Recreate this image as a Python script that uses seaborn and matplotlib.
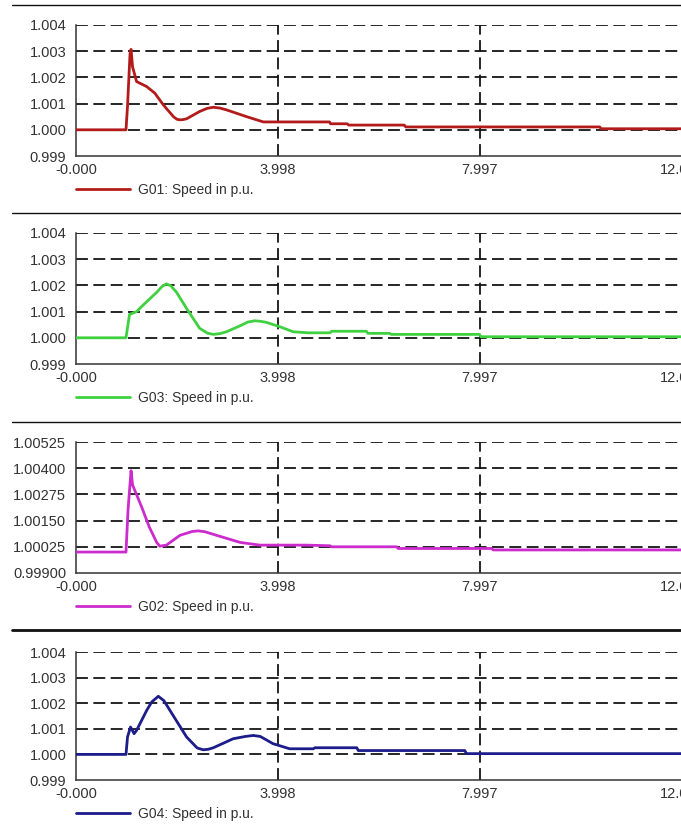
import matplotlib
matplotlib.use("Agg")
import matplotlib.pyplot as plt
from matplotlib.lines import Line2D
from matplotlib.ticker import FixedLocator
import pandas as pd
import seaborn as sns

# --- data (time in s, speed in p.u.) ---
t_g01 = [0, 0.99, 1.02, 1.07, 1.09, 1.12, 1.20, 1.40, 1.56, 1.73, 1.93, 2.00, 2.06, 2.12, 2.19,
         2.45, 2.60, 2.72, 2.85, 2.98, 3.38, 3.71, 5.02, 5.04, 5.37, 5.40, 6.50, 6.53,
         10.37, 10.40, 12.0]
w_g01 = [1.0, 1.0, 1.0009, 1.0029, 1.00307, 1.0024, 1.00184, 1.00165, 1.0014, 1.00095,
         1.0005, 1.0004, 1.00038, 1.00039, 1.00042, 1.0007, 1.00082, 1.00086, 1.00083,
         1.00076, 1.0005, 1.0003, 1.0003, 1.00023, 1.00023, 1.00018, 1.00018, 1.00011,
         1.00011, 1.00004, 1.00004]

t_g03 = [0, 0.99, 1.06, 1.20, 1.33, 1.60, 1.70, 1.79, 1.88, 1.99, 2.19, 2.45, 2.60, 2.72,
         2.85, 2.98, 3.25, 3.40, 3.54, 3.65, 3.77, 4.04, 4.30, 4.60, 5.03, 5.06, 5.75, 5.78,
         6.21, 6.24, 7.99, 8.02, 12.0]
w_g03 = [1.0, 1.0, 1.00089, 1.0010, 1.00125, 1.00174, 1.00195, 1.00206, 1.00198, 1.00174,
         1.00112, 1.00036, 1.00018, 1.00013, 1.00016, 1.00023, 1.00046, 1.0006, 1.00065,
         1.00063, 1.00059, 1.00042, 1.00023, 1.00019, 1.00019, 1.00025, 1.00025, 1.00017,
         1.00017, 1.00013, 1.00013, 1.00004, 1.00004]

t_g02 = [0, 0.99, 1.03, 1.09, 1.12, 1.30, 1.45, 1.60, 1.66, 1.79, 2.06, 2.30, 2.42, 2.55,
         2.78, 3.25, 3.64, 4.56, 5.03, 5.06, 6.35, 6.38, 8.23, 8.26, 12.0]
w_g02 = [1.0, 1.0, 1.002, 1.00388, 1.0032, 1.00215, 1.0012, 1.00045, 1.00028, 1.00033,
         1.0008, 1.00098, 1.00101, 1.00097, 1.0008, 1.00046, 1.00033, 1.00033, 1.0003,
         1.00025, 1.00025, 1.00017, 1.00017, 1.0001, 1.0001]

t_g04 = [0, 0.99, 1.02, 1.08, 1.15, 1.20, 1.40, 1.50, 1.63, 1.74, 1.86, 2.19, 2.40, 2.52,
         2.62, 2.72, 3.11, 3.35, 3.51, 3.65, 3.90, 4.23, 4.70, 4.73, 5.56, 5.59, 7.70, 7.73,
         12.0]
w_g04 = [1.0, 1.0, 1.00068, 1.00107, 1.00081, 1.00094, 1.00172, 1.00205, 1.00227, 1.0021,
         1.00172, 1.00068, 1.00025, 1.00018, 1.0002, 1.00026, 1.00061, 1.0007, 1.00074,
         1.0007, 1.00042, 1.00022, 1.00022, 1.00026, 1.00026, 1.00015, 1.00015, 1.00003,
         1.00003]

x_ticks = [0.0, 3.998, 7.997, 12.0]
x_labels = ["-0.000", "3.998", "7.997", "12.000"]
y_ticks_std = [0.999, 1.000, 1.001, 1.002, 1.003, 1.004]
y_labels_std = ["0.999", "1.000", "1.001", "1.002", "1.003", "1.004"]
y_ticks_g02 = [0.999, 1.00025, 1.0015, 1.00275, 1.004, 1.00525]
y_labels_g02 = ["0.99900", "1.00025", "1.00150", "1.00275", "1.00400", "1.00525"]

panels = [
    ("G01: Speed in p.u.", t_g01, w_g01, "#b31b1b", y_ticks_std, y_labels_std),
    ("G03: Speed in p.u.", t_g03, w_g03, "#3fd13f", y_ticks_std, y_labels_std),
    ("G02: Speed in p.u.", t_g02, w_g02, "#cc2ccc", y_ticks_g02, y_labels_g02),
    ("G04: Speed in p.u.", t_g04, w_g04, "#1c1c8a", y_ticks_std, y_labels_std),
]

sns.set_style("white")
plt.rcParams["font.family"] = ["Liberation Sans", "DejaVu Sans"]

W, H = 681, 827
fig = plt.figure(figsize=(W / 100, H / 100), dpi=100)

# pixel layout: (top of axes, bottom of axes, separator y, separator width)
layout = [(25, 156, 5, 1.0), (233, 364, 213, 1.0), (442, 573, 422, 1.0), (652, 780, 630, 2.0)]
ax_left, ax_right = 76, 682
dash = (0, (6.6, 3.0))

for (label, t, w, color, yt, yl), (top, bot, sep, sep_w) in zip(panels, layout):
    ax = fig.add_axes([ax_left / W, 1 - bot / H, (ax_right - ax_left) / W, (bot - top) / H])
    df = pd.DataFrame({"t": t, "w": w})
    sns.lineplot(data=df, x="t", y="w", ax=ax, color=color, lw=2.0,
                 estimator=None, sort=False, label=label, zorder=3)

    ax.set_xlim(0, 12.0)
    ax.set_ylim(yt[0], yt[-1])
    ax.set_xlabel("")
    ax.set_ylabel("")
    ax.xaxis.set_major_locator(FixedLocator(x_ticks))
    ax.set_xticklabels(x_labels)
    ax.yaxis.set_major_locator(FixedLocator(yt))
    ax.set_yticklabels(yl)
    ax.xaxis.set_minor_locator(FixedLocator([1.999, 5.997, 9.996]))
    step = yt[1] - yt[0]
    ax.yaxis.set_minor_locator(FixedLocator([v + step / 2 for v in yt[:-1]]))

    ax.tick_params(axis="both", which="major", length=0, labelsize=10.5,
                   labelcolor="#333333")
    ax.tick_params(axis="y", which="major", pad=7)
    ax.tick_params(axis="x", which="major", pad=5)
    ax.tick_params(axis="both", which="minor", direction="in", length=5,
                   width=1.0, color="#333333")

    # dashed grid: horizontal at every major y, vertical only at inner x ticks
    for v in yt[1:]:
        ax.axhline(v, color="#151515", lw=1.3, linestyle=dash, zorder=1)
    for v in x_ticks[1:3]:
        ax.axvline(v, color="#151515", lw=1.3, linestyle=dash, zorder=1)

    for s in ["top", "right"]:
        ax.spines[s].set_visible(False)
    for s in ["left", "bottom"]:
        ax.spines[s].set_color("#333333")
        ax.spines[s].set_linewidth(1.1)

    leg_y = -34 / (bot - top)
    ax.legend(loc="center left", bbox_to_anchor=(0.0, leg_y), frameon=False,
              fontsize=10, handlelength=3.9, handletextpad=0.6, borderpad=0,
              borderaxespad=0, labelcolor="#333333")

    fig.add_artist(Line2D([12 / W, 1.0], [1 - sep / H, 1 - sep / H],
                          color="#111111", lw=sep_w))

fig.savefig("out.png", dpi=100)
